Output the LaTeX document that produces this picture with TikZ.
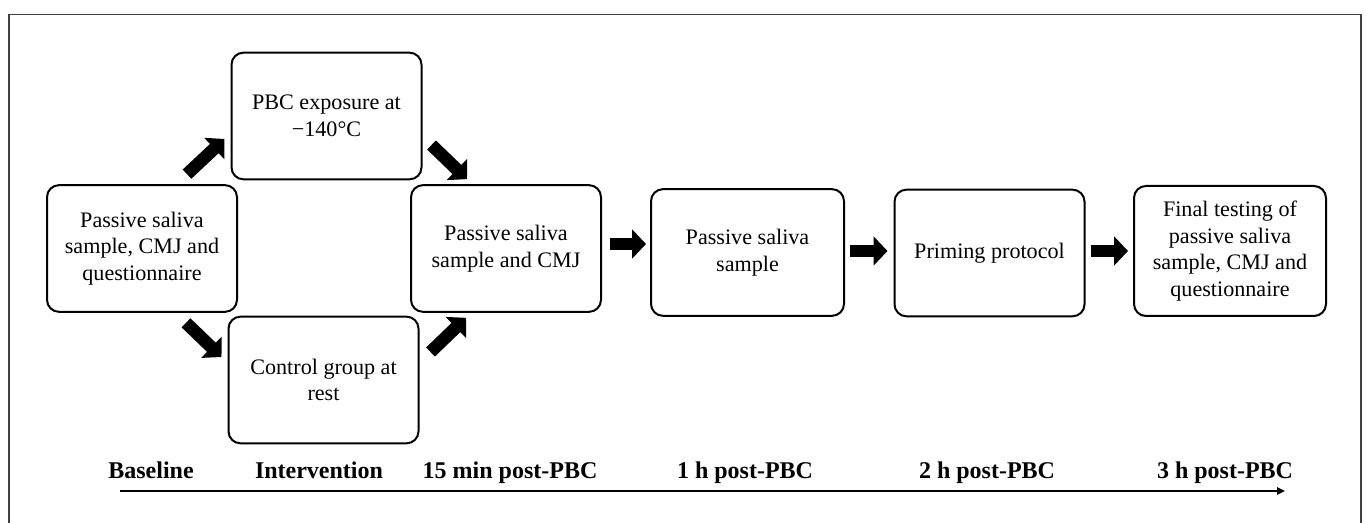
\documentclass[tikz,border=0pt]{standalone}
\usepackage{fontspec}
\setmainfont{Liberation Serif}
\usetikzlibrary{arrows.meta}
\begin{document}
\begin{tikzpicture}[x=0.75pt,y=-0.75pt,
  box/.style={draw, line width=1.5pt, rounded corners=9pt, minimum width=142.5pt, minimum height=95pt, align=center, font=\fontsize{16.6}{20}\selectfont, inner sep=0pt},
  blk/.style={line width=9.5pt, -{Triangle[length=10.5pt,width=21.5pt]}},
  lbl/.style={font=\fontsize{18}{21}\selectfont\bfseries, inner sep=0pt, anchor=base},
  frame/.style={line width=1pt, black!75}
]
\useasboundingbox (0,0) rectangle (1366,523);
\draw[frame] (9,523) -- (9,14.5) -- (1361,14.5) -- (1361,523);

\node[box] (b1) at (142,248.5) {Passive saliva\\sample, CMJ and\\questionnaire};
\node[box] (pbc) at (326.5,116) {PBC exposure at\\−140°C};
\node[box] (ctrl) at (323.5,380) {Control group at\\rest};
\node[box] (b15) at (506,248.5) {Passive saliva\\sample and CMJ};
\node[box, minimum width=144.75pt] (b1h) at (747.5,252.5) {Passive saliva\\sample};
\node[box] (prim) at (989.5,253) {Priming protocol};
\node[box, minimum width=144pt, minimum height=97.5pt] (fin) at (1230,251) {Final testing of\\passive saliva\\sample, CMJ and\\questionnaire};

\draw[blk] ([shift={(45,-10)}]b1.north) -- ([shift={(-6,23)}]pbc.west);
\draw[blk] ([shift={(9,29)}]pbc.east) -- ([shift={(-39,-5)}]b15.north);
\draw[blk] ([shift={(44,10)}]b1.south) -- ([shift={(-6,-23)}]ctrl.west);
\draw[blk] ([shift={(11,-28)}]ctrl.east) -- ([shift={(-40,5)}]b15.south);

\draw[blk] ([shift={(8,-4.5)}]b15.east) -- ([shift={(-4,-8.5)}]b1h.west);
\draw[blk] ([shift={(5,-1.5)}]b1h.east) -- ([shift={(-6,-2)}]prim.west);
\draw[blk] ([shift={(5,-2)}]prim.east) -- ([shift={(-5,0)}]fin.west);

\node[lbl] (l0) at (151,478) {Baseline};
\node[lbl] (l1) at (319,478) {Intervention};
\node[lbl] (l2) at (510,478) {15 min post-PBC};
\node[lbl] (l3) at (745,478) {1 h post-PBC};
\node[lbl] (l4) at (987,478) {2 h post-PBC};
\node[lbl] (l5) at (1225,478) {3 h post-PBC};

\coordinate (t0) at (120,491);
\coordinate (t1) at (1285,491);
\draw[line width=2pt, -{Triangle[length=6pt,width=5.5pt]}] (t0) -- (t1);
\end{tikzpicture}
\end{document}
